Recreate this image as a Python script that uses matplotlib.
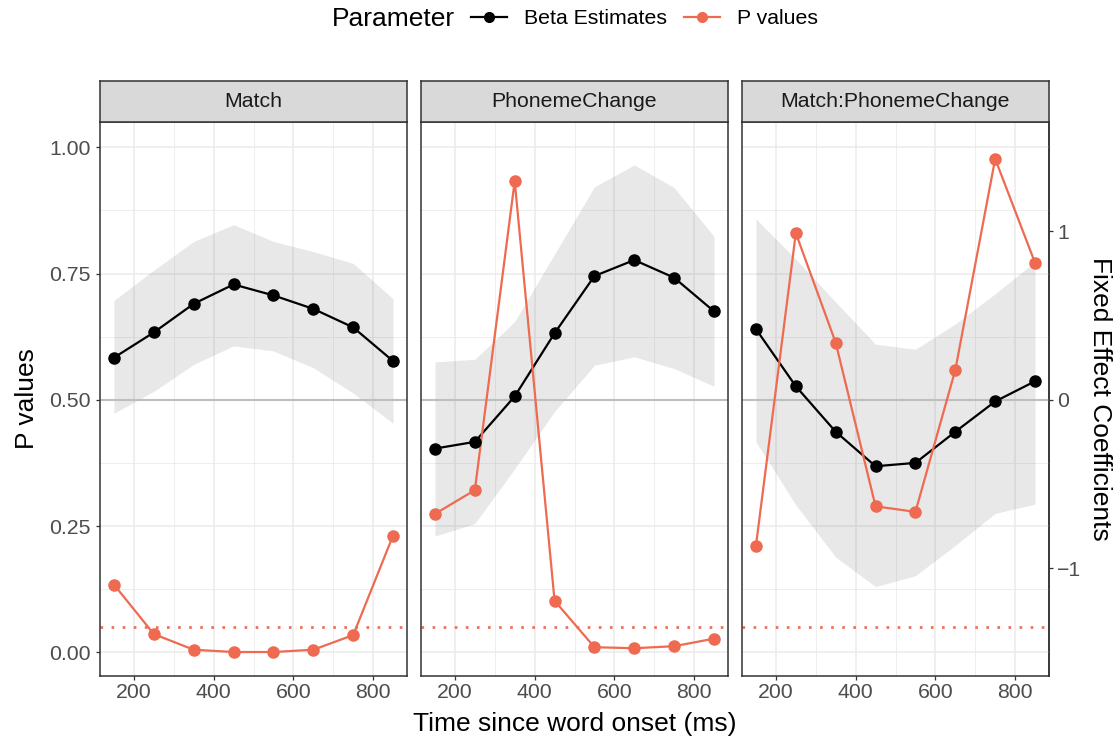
import numpy as np
import matplotlib
matplotlib.use("Agg")
import matplotlib.pyplot as plt
from matplotlib.lines import Line2D

plt.rcParams["font.family"] = ["Liberation Sans", "DejaVu Sans"]

time = [150, 250, 350, 450, 550, 650, 750, 850]
panels = ["Match", "PhonemeChange", "Match:PhonemeChange"]

# fixed effect coefficients (right axis units) and ribbon bounds
beta_match = [0.25, 0.40, 0.57, 0.685, 0.62, 0.54, 0.43, 0.23]
lo_match = [-0.08, 0.05, 0.21, 0.32, 0.29, 0.19, 0.04, -0.14]
hi_match = [0.59, 0.77, 0.94, 1.04, 0.94, 0.88, 0.81, 0.60]
p_match = [0.134, 0.036, 0.005, 0.0005, 0.0005, 0.005, 0.034, 0.231]

beta_pc = [-0.29, -0.25, 0.02, 0.395, 0.735, 0.83, 0.725, 0.525]
lo_pc = [-0.81, -0.735, -0.41, -0.07, 0.205, 0.255, 0.185, 0.08]
hi_pc = [0.225, 0.24, 0.465, 0.865, 1.265, 1.395, 1.26, 0.97]
p_pc = [0.274, 0.321, 0.933, 0.102, 0.010, 0.008, 0.012, 0.027]

beta_int = [0.42, 0.08, -0.19, -0.395, -0.375, -0.19, -0.01, 0.11]
lo_int = [-0.25, -0.625, -0.935, -1.11, -1.045, -0.865, -0.675, -0.62]
hi_int = [1.075, 0.835, 0.58, 0.33, 0.30, 0.45, 0.63, 0.82]
p_int = [0.211, 0.830, 0.613, 0.289, 0.278, 0.559, 0.977, 0.771]

betas = [beta_match, beta_pc, beta_int]
los = [lo_match, lo_pc, lo_int]
his = [hi_match, hi_pc, hi_int]
pvals = [p_match, p_pc, p_int]

scale = 3.0  # coefficient = (p - 0.5) * scale
to_p = lambda c: np.asarray(c) / scale + 0.5
to_c = lambda p: (np.asarray(p) - 0.5) * scale

red = '#EE6A50'
dark = '#333333'
txt = '#4D4D4D'
W, H = 1118, 742
lefts = [100, 421, 742]
pw = 307
ptop, pbot, stop = 122, 676, 81

fig = plt.figure(figsize=(W/100, H/100), dpi=100)

for i, name in enumerate(panels):
    ax = fig.add_axes([lefts[i]/W, 1-pbot/H, pw/W, (pbot-ptop)/H])
    ax.set_xlim(115, 885)
    ax.set_ylim(-0.047, 1.05)
    ax.set_xticks([200, 400, 600, 800])
    ax.set_xticks([300, 500, 700], minor=True)
    ax.set_yticks([0, 0.25, 0.5, 0.75, 1.0])
    ax.set_yticks([0.125, 0.375, 0.625, 0.875], minor=True)
    ax.set_axisbelow(True)
    ax.grid(which='major', color='#EBEBEB', lw=1.1)
    ax.grid(which='minor', color='#EBEBEB', lw=0.6)
    ax.tick_params(which='minor', length=0)
    ax.tick_params(which='major', direction='out', length=3, width=0.9,
                   color=dark, labelcolor=txt, labelsize=15.3, pad=2)
    ax.tick_params(axis='y', pad=3.5)
    for s in ax.spines.values():
        s.set_color(dark)
        s.set_linewidth(1.1)
    if i == 0:
        ax.set_yticklabels(['0.00', '0.25', '0.50', '0.75', '1.00'])
    else:
        ax.tick_params(axis='y', left=False, labelleft=False)

    ax.fill_between(time, to_p(los[i]), to_p(his[i]), color='grey', alpha=0.18, lw=0, zorder=1)
    ax.axhline(0.5, color='#BEBEBE', lw=1.5, zorder=1.5)
    ax.axhline(0.05, color=red, lw=1.9, dashes=(1, 3.2), zorder=1.5)
    ax.plot(time, to_p(betas[i]), color='black', lw=1.6, zorder=2)
    ax.plot(time, pvals[i], color=red, lw=1.6, zorder=2.1)
    ax.plot(time, to_p(betas[i]), 'o', color='black', ms=8, zorder=3)
    ax.plot(time, pvals[i], 'o', color=red, ms=8, zorder=3.1)

    if i == 2:
        sec = ax.secondary_yaxis('right', functions=(to_c, to_p))
        sec.set_yticks([-1, 0, 1])
        sec.tick_params(direction='out', length=3, width=0.9, color=dark,
                        labelcolor=txt, labelsize=15.3, pad=3)
        sec.spines['right'].set_color(dark)
        sec.spines['right'].set_linewidth(1.1)

    st = fig.add_axes([lefts[i]/W, 1-ptop/H, pw/W, (ptop-stop)/H])
    st.set_facecolor('#D9D9D9')
    st.set_xticks([])
    st.set_yticks([])
    for s in st.spines.values():
        s.set_color(dark)
        s.set_linewidth(1.1)
    st.text(0.5, 0.5, name, ha='center', va='center', fontsize=15.3, color='#1A1A1A',
            transform=st.transAxes)

fig.text(27/W, 1-399/H, 'P values', rotation=90, ha='center', va='center', fontsize=19)
fig.text(1100/W, 1-399/H, 'Fixed Effect Coefficients', rotation=270, ha='center', va='center', fontsize=19)
fig.text(575/W, 1-724/H, 'Time since word onset (ms)', ha='center', va='center', fontsize=19)

fig.text(332/W, 1-19/H, 'Parameter', ha='left', va='center', fontsize=19)
handles = [Line2D([], [], color='black', lw=1.6, marker='o', ms=7),
           Line2D([], [], color=red, lw=1.6, marker='o', ms=7)]
fig.legend(handles, ['Beta Estimates', 'P values'], loc='center left',
           bbox_to_anchor=(471/W, 1-19/H), ncol=2, frameon=False, fontsize=15.3,
           handlelength=1.7, handletextpad=0.8, columnspacing=0.8,
           borderpad=0, borderaxespad=0)

fig.savefig('out.png', dpi=100)
